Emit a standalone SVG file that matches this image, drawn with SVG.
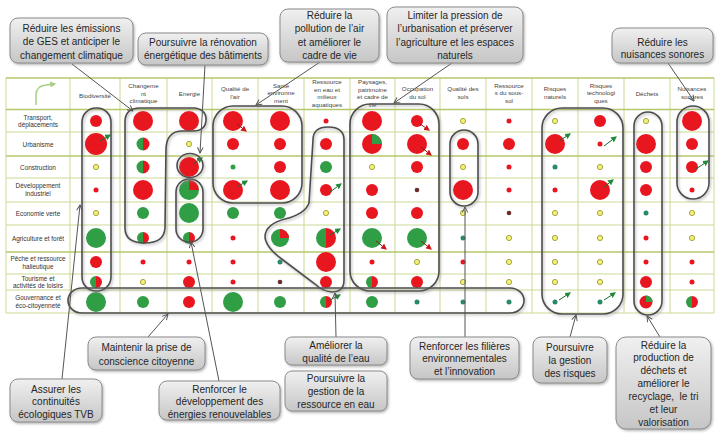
<svg xmlns="http://www.w3.org/2000/svg" width="720" height="434" viewBox="0 0 720 434">
<defs>
<linearGradient id="box" x1="0" y1="0" x2="0" y2="1"><stop offset="0" stop-color="#f0f0f0"/><stop offset="1" stop-color="#c6c6c6"/></linearGradient>
<filter id="sh" x="-10%" y="-10%" width="130%" height="130%"><feDropShadow dx="1.2" dy="1.5" stdDeviation="1" flood-color="#888" flood-opacity="0.6"/></filter>
<marker id="pt" viewBox="0 0 10 10" refX="9" refY="5" markerUnits="userSpaceOnUse" markerWidth="7" markerHeight="7" orient="auto"><path d="M1,1 L9,5 L1,9" fill="none" stroke="#555" stroke-width="1.4"/></marker>
<marker id="ag" viewBox="0 0 10 10" refX="8" refY="5" markerUnits="userSpaceOnUse" markerWidth="6" markerHeight="6" orient="auto"><path d="M0,0 L10,5 L0,10 z" fill="#1f8a3a"/></marker>
<marker id="ar" viewBox="0 0 10 10" refX="8" refY="5" markerUnits="userSpaceOnUse" markerWidth="6" markerHeight="6" orient="auto"><path d="M0,0 L10,5 L0,10 z" fill="#d0141c"/></marker>
<marker id="hg" viewBox="0 0 10 10" refX="8" refY="5" markerUnits="userSpaceOnUse" markerWidth="6" markerHeight="6" orient="auto"><path d="M0,0 L10,5 L0,10 z" fill="#a5cf85"/></marker>
</defs>
<style>
.bx{fill:url(#box);stroke:#8c8c8c;stroke-width:1;filter:url(#sh)}
.lt{font-family:"Liberation Sans",Arial,sans-serif;font-size:10px;fill:#262626;text-anchor:middle}
.hd{font-family:"Liberation Sans",Arial,sans-serif;font-size:6.2px;fill:#444;text-anchor:middle}
.rl{font-family:"Liberation Sans",Arial,sans-serif;font-size:6.4px;fill:#333;text-anchor:middle}
.gl{stroke:#cbd994;stroke-width:1;fill:none}
.gh{stroke:#b3c86a;stroke-width:1.6;fill:none}
.r{fill:#e8171f}
.g{fill:#2f9e44}
.t{fill:#2a8a66}
.d{fill:#6b2c2c}
.y{fill:#f3f07c;stroke:#a9a83c;stroke-width:1}
.loop{fill:none;stroke:#4d4d4d;stroke-width:1.6;filter:url(#sh)}
.con{stroke:#555;stroke-width:1;fill:none;marker-end:url(#pt)}
.tg{stroke:#1d6b30;stroke-width:1;marker-end:url(#ag)}
.tr{stroke:#8b1a1a;stroke-width:1;marker-end:url(#ar)}
</style>
<rect x="0" y="0" width="720" height="434" fill="#ffffff"/>

<g id="table">
<rect x="6" y="78" width="708" height="235" fill="#ffffff"/>
<g class="gl">
<line x1="6" y1="78" x2="6" y2="313"/><line x1="70" y1="78" x2="70" y2="313"/><line x1="120" y1="78" x2="120" y2="313"/><line x1="167" y1="78" x2="167" y2="313"/><line x1="212" y1="78" x2="212" y2="313"/><line x1="258" y1="78" x2="258" y2="313"/><line x1="304" y1="78" x2="304" y2="313"/><line x1="350" y1="78" x2="350" y2="313"/><line x1="395" y1="78" x2="395" y2="313"/><line x1="440" y1="78" x2="440" y2="313"/><line x1="486" y1="78" x2="486" y2="313"/><line x1="532" y1="78" x2="532" y2="313"/><line x1="578" y1="78" x2="578" y2="313"/><line x1="624" y1="78" x2="624" y2="313"/><line x1="670" y1="78" x2="670" y2="313"/><line x1="714" y1="78" x2="714" y2="313"/>
<line x1="6" y1="132" x2="714" y2="132"/><line x1="6" y1="178" x2="714" y2="178"/><line x1="6" y1="202" x2="714" y2="202"/><line x1="6" y1="225" x2="714" y2="225"/><line x1="6" y1="274" x2="714" y2="274"/><line x1="6" y1="290" x2="714" y2="290"/><line x1="6" y1="313" x2="714" y2="313"/>
</g>
<g class="gh">
<line x1="6" y1="78" x2="714" y2="78"/><line x1="6" y1="109.5" x2="714" y2="109.5"/><line x1="6" y1="156" x2="714" y2="156"/><line x1="6" y1="252" x2="714" y2="252"/>
</g>
<path d="M36,105 L36,95 Q36,86 46,85 L55,84" fill="none" stroke="#a5cf85" stroke-width="1.5" marker-end="url(#hg)"/>

<text class="hd" x="95" y="98">Biodiversité</text>
<text class="hd"><tspan x="143.5" y="88">Changeme</tspan><tspan x="143.5" y="95.5">nt</tspan><tspan x="143.5" y="103">climatique</tspan></text>
<text class="hd" x="189.5" y="96">Energie</text>
<text class="hd"><tspan x="235" y="91">Qualité de</tspan><tspan x="235" y="99">l'air</tspan></text>
<text class="hd"><tspan x="281" y="87.5">Santé</tspan><tspan x="281" y="95">environne</tspan><tspan x="281" y="103">ment</tspan></text>
<text class="hd"><tspan x="327" y="84">Ressource</tspan><tspan x="327" y="91.5">en eau et</tspan><tspan x="327" y="99">milieux</tspan><tspan x="327" y="106.5">aquatiques</tspan></text>
<text class="hd"><tspan x="372.5" y="84">Paysages,</tspan><tspan x="372.5" y="91.5">patrimoine</tspan><tspan x="372.5" y="99">et cadre de</tspan><tspan x="372.5" y="106.5">vie</tspan></text>
<text class="hd"><tspan x="417.5" y="91">Occupation</tspan><tspan x="417.5" y="99">du sol</tspan></text>
<text class="hd"><tspan x="463" y="91">Qualité des</tspan><tspan x="463" y="99">sols</tspan></text>
<text class="hd"><tspan x="509" y="87.5">Ressource</tspan><tspan x="509" y="95">s du sous-</tspan><tspan x="509" y="103">sol</tspan></text>
<text class="hd"><tspan x="555" y="91">Risques</tspan><tspan x="555" y="99">naturels</tspan></text>
<text class="hd"><tspan x="601" y="87.5">Risques</tspan><tspan x="601" y="95">technologi</tspan><tspan x="601" y="103">ques</tspan></text>
<text class="hd" x="647" y="96">Déchets</text>
<text class="hd"><tspan x="692" y="91">Nuisances</tspan><tspan x="692" y="99">sonores</tspan></text>

<text class="rl"><tspan x="38" y="119.5">Transport,</tspan><tspan x="38" y="127">déplacements</tspan></text>
<text class="rl" x="38" y="146.5">Urbanisme</text>
<text class="rl" x="38" y="169.5">Construction</text>
<text class="rl"><tspan x="38" y="188">Développement</tspan><tspan x="38" y="195.5">industriel</tspan></text>
<text class="rl" x="38" y="215.5">Economie verte</text>
<text class="rl" x="38" y="240.5">Agriculture et forêt</text>
<text class="rl"><tspan x="38" y="261">Pêche et ressource</tspan><tspan x="38" y="268.5">halieutique</tspan></text>
<text class="rl"><tspan x="38" y="280.5">Tourisme et</tspan><tspan x="38" y="287.5">activités de loisirs</tspan></text>
<text class="rl"><tspan x="38" y="300">Gouvernance et</tspan><tspan x="38" y="307.5">éco-citoyenneté</tspan></text>
</g>

<g id="indicators">
<!-- Transport y=121 -->
<circle class="r" cx="96" cy="121" r="6"/>
<circle class="r" cx="143" cy="121" r="10"/>
<circle class="r" cx="189" cy="121" r="10"/>
<circle class="r" cx="233" cy="121" r="10"/>
<circle class="r" cx="280" cy="121" r="10"/>
<circle class="r" cx="326" cy="121" r="2.5"/>
<circle class="r" cx="372" cy="121" r="10"/>
<circle class="r" cx="417" cy="121" r="6"/>
<circle class="y" cx="463" cy="121" r="2.6"/>
<circle class="r" cx="509" cy="121" r="2.5"/>
<circle class="y" cx="555" cy="121" r="2.6"/>
<circle class="r" cx="600" cy="121" r="6"/>
<circle class="y" cx="646" cy="121" r="2.6"/>
<circle class="r" cx="692" cy="121" r="10"/>
<!-- Urbanisme y=144 -->
<circle class="r" cx="96" cy="144" r="11"/>
<path class="g" d="M143,137.5 A6.5,6.5 0 0 0 143,150.5 Z"/><path class="r" d="M143,137.5 A6.5,6.5 0 0 1 143,150.5 Z"/>
<circle class="y" cx="189" cy="144" r="2.6"/>
<circle class="r" cx="233" cy="144" r="6"/>
<circle class="r" cx="280" cy="144" r="6"/>
<circle class="r" cx="326" cy="144" r="6"/>
<circle class="r" cx="372" cy="144" r="10"/><path class="g" d="M372,144 L372,134 A10,10 0 0 1 382,144 Z"/>
<circle class="r" cx="417" cy="144" r="10"/>
<circle class="r" cx="463" cy="144" r="6"/>
<circle class="r" cx="509" cy="144" r="6"/>
<circle class="r" cx="555" cy="144" r="10"/>
<circle class="r" cx="600" cy="144" r="2.5"/>
<circle class="r" cx="646" cy="144" r="10"/>
<circle class="r" cx="692" cy="144" r="6"/>
<!-- Construction y=167 -->
<circle class="y" cx="96" cy="167" r="2.6"/>
<path class="g" d="M143,160.5 A6.5,6.5 0 0 0 143,173.5 Z"/><path class="r" d="M143,160.5 A6.5,6.5 0 0 1 143,173.5 Z"/>
<circle class="r" cx="189" cy="167" r="10"/>
<circle class="g" cx="233" cy="167" r="2.5"/>
<circle class="r" cx="280" cy="167" r="6"/>
<circle class="g" cx="326" cy="167" r="6"/>
<circle class="y" cx="372" cy="167" r="2.6"/>
<circle class="r" cx="417" cy="167" r="6"/>
<circle class="y" cx="463" cy="167" r="2.6"/>
<circle class="r" cx="509" cy="167" r="2.5"/>
<circle class="t" cx="555" cy="167" r="2.5"/>
<circle class="y" cx="600" cy="167" r="2.6"/>
<circle class="r" cx="646" cy="167" r="6"/>
<circle class="r" cx="692" cy="167" r="6"/>
<!-- Developpement industriel y=190 -->
<circle class="r" cx="96" cy="190" r="2.5"/>
<circle class="r" cx="143" cy="190" r="10"/>
<circle class="g" cx="189" cy="190" r="10"/><path class="r" d="M189,190 L189,180 A10,10 0 0 1 199,190 Z"/>
<circle class="r" cx="233" cy="190" r="10"/>
<circle class="r" cx="280" cy="190" r="10"/>
<circle class="r" cx="326" cy="190" r="6"/>
<circle class="r" cx="372" cy="190" r="6"/>
<circle class="d" cx="417" cy="190" r="2.3"/>
<circle class="r" cx="463" cy="190" r="10"/>
<circle class="r" cx="509" cy="190" r="2.5"/>
<circle class="r" cx="555" cy="190" r="2.5"/>
<circle class="r" cx="600" cy="190" r="10"/>
<circle class="r" cx="646" cy="190" r="6"/>
<circle class="r" cx="692" cy="190" r="2.5"/>
<!-- Economie verte y=213 -->
<circle class="y" cx="96" cy="213" r="2.6"/>
<circle class="g" cx="143" cy="213" r="6"/>
<circle class="g" cx="189" cy="213" r="10"/>
<circle class="g" cx="233" cy="213" r="6"/>
<circle class="g" cx="280" cy="213" r="6"/>
<circle class="y" cx="326" cy="213" r="2.6"/>
<circle class="r" cx="372" cy="213" r="6"/>
<circle class="r" cx="417" cy="213" r="6"/>
<circle class="y" cx="463" cy="213" r="2.6"/>
<circle class="d" cx="509" cy="213" r="2.3"/>
<circle class="y" cx="555" cy="213" r="2.6"/>
<circle class="y" cx="600" cy="213" r="2.6"/>
<circle class="t" cx="646" cy="213" r="2.5"/>
<circle class="y" cx="692" cy="213" r="2.6"/>
<!-- Agriculture y=238 -->
<circle class="g" cx="96" cy="238" r="10"/>
<path class="g" d="M143,232 A6,6 0 0 0 143,244 Z"/><path class="r" d="M143,232 A6,6 0 0 1 143,244 Z"/>
<path class="g" d="M189,232 A6,6 0 0 0 189,244 Z"/><path class="r" d="M189,232 A6,6 0 0 1 189,244 Z"/>
<circle class="r" cx="233" cy="238" r="2.5"/>
<circle class="g" cx="280" cy="238" r="9"/><path class="r" d="M280,238 L280,229 A9,9 0 0 1 289,238 Z"/>
<path class="g" d="M326,228 A10,10 0 0 0 326,248 Z"/><path class="r" d="M326,228 A10,10 0 0 1 326,248 Z"/>
<circle class="g" cx="372" cy="238" r="10"/>
<circle class="g" cx="417" cy="238" r="10"/>
<circle class="t" cx="463" cy="238" r="2.5"/>
<circle class="y" cx="509" cy="238" r="2.6"/>
<circle class="y" cx="555" cy="238" r="2.6"/>
<circle class="y" cx="600" cy="238" r="2.6"/>
<circle class="r" cx="646" cy="238" r="2.5"/>
<circle class="y" cx="692" cy="238" r="2.6"/>
<!-- Peche y=262 -->
<circle class="r" cx="96" cy="262" r="6"/>
<circle class="r" cx="143" cy="262" r="2.5"/>
<circle class="r" cx="189" cy="262" r="2.5"/>
<circle class="r" cx="233" cy="262" r="2.5"/>
<circle class="t" cx="280" cy="262" r="2.5"/>
<circle class="r" cx="326" cy="262" r="10"/>
<circle class="r" cx="372" cy="262" r="2.5"/>
<circle class="y" cx="417" cy="262" r="2.6"/>
<circle class="r" cx="463" cy="262" r="2.5"/>
<circle class="y" cx="509" cy="262" r="2.6"/>
<circle class="y" cx="555" cy="262" r="2.6"/>
<circle class="y" cx="600" cy="262" r="2.6"/>
<circle class="r" cx="646" cy="262" r="2.5"/>
<circle class="r" cx="692" cy="262" r="2.5"/>
<!-- Tourisme y=282 -->
<path class="g" d="M96,276 A6,6 0 0 0 96,288 Z"/><path class="r" d="M96,276 A6,6 0 0 1 96,288 Z"/>
<circle class="y" cx="143" cy="282" r="2.6"/>
<circle class="r" cx="189" cy="282" r="6"/>
<circle class="r" cx="233" cy="282" r="2.5"/>
<circle class="d" cx="280" cy="282" r="2.3"/>
<circle class="r" cx="326" cy="282" r="6"/>
<path class="g" d="M372,276 A6,6 0 0 0 372,288 Z"/><path class="r" d="M372,276 A6,6 0 0 1 372,288 Z"/>
<circle class="r" cx="417" cy="282" r="6"/>
<circle class="y" cx="463" cy="282" r="2.6"/>
<circle class="y" cx="509" cy="282" r="2.6"/>
<circle class="y" cx="555" cy="282" r="2.6"/>
<circle class="y" cx="600" cy="282" r="2.6"/>
<circle class="r" cx="646" cy="282" r="6"/>
<circle class="r" cx="692" cy="282" r="2.5"/>
<!-- Gouvernance y=302 -->
<circle class="g" cx="96" cy="302" r="10"/>
<circle class="g" cx="143" cy="302" r="6"/>
<circle class="r" cx="189" cy="302" r="6"/>
<circle class="g" cx="233" cy="302" r="10"/>
<circle class="g" cx="280" cy="302" r="6"/>
<path class="g" d="M326,296 A6,6 0 0 0 326,308 Z"/><path class="r" d="M326,296 A6,6 0 0 1 326,308 Z"/>
<circle class="g" cx="372" cy="302" r="6"/>
<circle class="t" cx="417" cy="302" r="2.5"/>
<circle class="t" cx="463" cy="302" r="2.5"/>
<circle class="t" cx="509" cy="302" r="2.5"/>
<circle class="t" cx="555" cy="302" r="2.5"/>
<circle class="t" cx="600" cy="302" r="2.5"/>
<circle class="r" cx="646" cy="302" r="6.5"/><path class="g" d="M646,302 L646,295.5 A6.5,6.5 0 0 1 652.5,302 Z"/>
<path class="g" d="M692,296 A6,6 0 0 0 692,308 Z"/><path class="r" d="M692,296 A6,6 0 0 1 692,308 Z"/>
<!-- trend arrows -->
<line class="tr" x1="237" y1="124" x2="246" y2="131"/>
<line class="tr" x1="420" y1="124" x2="429" y2="130"/>
<line class="tr" x1="421" y1="147" x2="431" y2="155"/>
<line class="tr" x1="376" y1="241" x2="386" y2="249"/>
<line class="tr" x1="421" y1="241" x2="431" y2="249"/>
<line class="tg" x1="100" y1="141" x2="110" y2="135"/>
<line class="tg" x1="559" y1="141" x2="570" y2="134"/>
<line class="tg" x1="604" y1="146" x2="616" y2="137"/>
<line class="tg" x1="193" y1="164" x2="202" y2="158"/>
<line class="tg" x1="696" y1="169" x2="708" y2="161"/>
<line class="tg" x1="237" y1="187" x2="247" y2="181"/>
<line class="tg" x1="330" y1="192" x2="341" y2="184"/>
<line class="tg" x1="604" y1="187" x2="613" y2="180"/>
<line class="tg" x1="330" y1="235" x2="340" y2="229"/>
<line class="tg" x1="330" y1="300" x2="340" y2="295"/>
<line class="tg" x1="559" y1="300" x2="570" y2="293"/>
<line class="tg" x1="604" y1="300" x2="615" y2="293"/>
</g>

<g id="groupings">
<rect class="loop" x="82" y="108" width="29" height="183" rx="14"/>
<path class="loop" d="M125,228 L125,122 Q125,108 140,108 L195,108 Q207,110 206,121 Q205,131 193,131 L181,131 Q167,132 166,148 L165,228 Q164,243 145,243 Q125,243 125,228 Z"/>
<rect class="loop" x="176" y="179" width="27" height="63" rx="13"/>
<ellipse class="loop" cx="190" cy="165.5" rx="13" ry="12"/>
<rect class="loop" x="213" y="106" width="89" height="97" rx="20"/>
<path class="loop" d="M313,140 Q313,127 328,127 Q344,127 344,140 L344,280 Q344,292 332,292 Q322,291 315,284 L283,260 Q265,247 265,236 Q266,224 285,219 Q305,214 309,203 Z"/>
<rect class="loop" x="350" y="104" width="89" height="187" rx="20"/>
<rect class="loop" x="450" y="130" width="28" height="76" rx="14"/>
<rect class="loop" x="542" y="108" width="81" height="206" rx="20"/>
<rect class="loop" x="634" y="112" width="28" height="203" rx="14"/>
<rect class="loop" x="677" y="106" width="32" height="93" rx="16"/>
<rect class="loop" x="68" y="288" width="456" height="25" rx="14" ry="12.5"/>
</g>

<g id="connectors">
<line class="con" x1="72" y1="64" x2="133" y2="111"/>
<line class="con" x1="205" y1="65" x2="200" y2="153"/>
<line class="con" x1="320" y1="62" x2="256" y2="105"/>
<line class="con" x1="452" y1="63" x2="394" y2="103"/>
<line class="con" x1="668" y1="63" x2="694" y2="101"/>
<line class="con" x1="148" y1="337" x2="168" y2="314"/>
<line class="con" x1="62" y1="379" x2="80" y2="205"/>
<line class="con" x1="219" y1="381" x2="191" y2="242"/>
<line class="con" x1="336" y1="337" x2="335" y2="293"/>
<line class="con" x1="465" y1="337" x2="465" y2="207"/>
<line class="con" x1="570" y1="337" x2="576" y2="315"/>
<line class="con" x1="660" y1="337" x2="647" y2="316"/>
</g>

<g id="n-ges"><rect class="bx" x="10" y="18" width="123" height="45" rx="8"/>
<text class="lt"><tspan x="71.5" y="31.5">Réduire les émissions</tspan><tspan x="71.5" y="45">de GES et anticiper le</tspan><tspan x="71.5" y="58.5">changement climatique</tspan></text></g>
<g id="n-renovation"><rect class="bx" x="138" y="33" width="130" height="32" rx="8"/>
<text class="lt"><tspan x="203" y="45.5">Poursuivre la rénovation</tspan><tspan x="203" y="59">énergétique des bâtiments</tspan></text></g>
<g id="n-air"><rect class="bx" x="280" y="9" width="99" height="53" rx="8"/>
<text class="lt"><tspan x="329.5" y="19">Réduire la</tspan><tspan x="329.5" y="32">pollution de l’air</tspan><tspan x="329.5" y="45.5">et améliorer le</tspan><tspan x="329.5" y="59">cadre de vie</tspan></text></g>
<g id="n-urbanisation"><rect class="bx" x="387" y="7" width="136" height="56" rx="8"/>
<text class="lt"><tspan x="455" y="18.5">Limiter la pression de</tspan><tspan x="455" y="32">l’urbanisation et préserver</tspan><tspan x="455" y="45.5">l’agriculture et les espaces</tspan><tspan x="455" y="59">naturels</tspan></text></g>
<g id="n-sonores"><rect class="bx" x="612" y="28" width="101" height="35" rx="8"/>
<text class="lt"><tspan x="662.5" y="45.5">Réduire les</tspan><tspan x="662.5" y="58">nuisances sonores</tspan></text></g>
<g id="n-citoyenne"><rect class="bx" x="88" y="337" width="117" height="33" rx="8"/>
<text class="lt"><tspan x="146.5" y="350.5">Maintenir la prise de</tspan><tspan x="146.5" y="364.5">conscience citoyenne</tspan></text></g>
<g id="n-tvb"><rect class="bx" x="10" y="379" width="92" height="43" rx="8"/>
<text class="lt"><tspan x="56" y="392.5">Assurer les</tspan><tspan x="56" y="405">continuités</tspan><tspan x="56" y="418">écologiques TVB</tspan></text></g>
<g id="n-enr"><rect class="bx" x="159" y="381" width="121" height="39" rx="8"/>
<text class="lt"><tspan x="219.5" y="392.5">Renforcer le</tspan><tspan x="219.5" y="405">développement des</tspan><tspan x="219.5" y="418">énergies renouvelables</tspan></text></g>
<g id="n-qualite-eau"><rect class="bx" x="285" y="337" width="102" height="28" rx="7"/>
<text class="lt"><tspan x="336" y="348.5">Améliorer la</tspan><tspan x="336" y="361.5">qualité de l’eau</tspan></text></g>
<g id="n-ressource-eau"><rect class="bx" x="285" y="371" width="102" height="40" rx="7"/>
<text class="lt"><tspan x="336" y="381.5">Poursuivre la</tspan><tspan x="336" y="394.5">gestion de la</tspan><tspan x="336" y="407.5">ressource en eau</tspan></text></g>
<g id="n-filieres"><rect class="bx" x="410" y="337" width="109" height="42" rx="8"/>
<text class="lt"><tspan x="464.5" y="349.5">Renforcer les filières</tspan><tspan x="464.5" y="362">environnementales</tspan><tspan x="464.5" y="375">et l’innovation</tspan></text></g>
<g id="n-risques"><rect class="bx" x="533" y="337" width="74" height="46" rx="8"/>
<text class="lt"><tspan x="570" y="350.5">Poursuivre</tspan><tspan x="570" y="363.5">la gestion</tspan><tspan x="570" y="376.5">des risques</tspan></text></g>
<g id="n-dechets"><rect class="bx" x="616" y="337" width="95" height="92" rx="10"/>
<text class="lt"><tspan x="663.5" y="348.5">Réduire la</tspan><tspan x="663.5" y="361">production de</tspan><tspan x="663.5" y="374">déchets et</tspan><tspan x="663.5" y="387">améliorer le</tspan><tspan x="663.5" y="400">recyclage,&#160; le tri</tspan><tspan x="663.5" y="413">et leur</tspan><tspan x="663.5" y="426">valorisation</tspan></text></g>
</svg>
